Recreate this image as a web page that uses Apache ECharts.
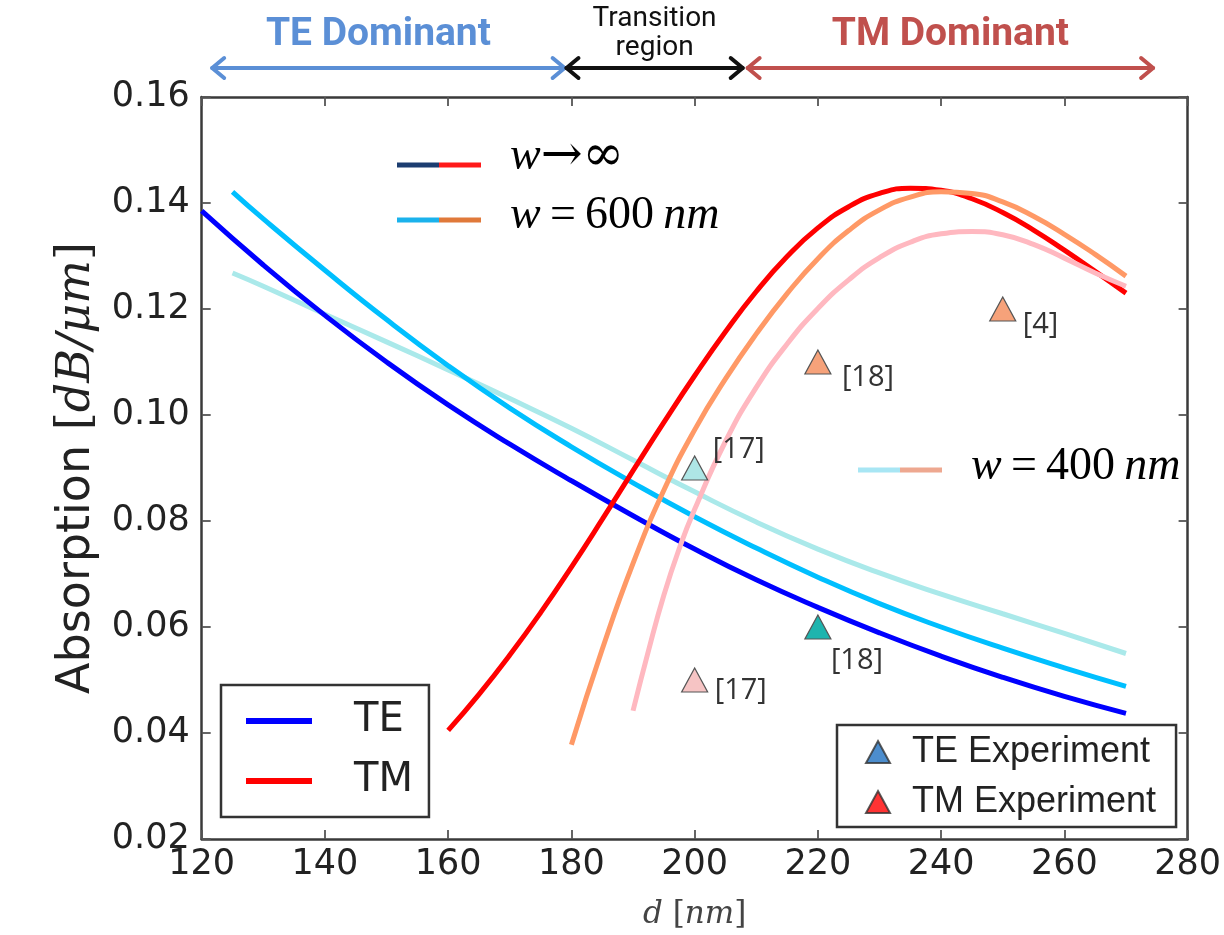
<!DOCTYPE html>
<html>
<head>
<meta charset="utf-8">
<script src="https://cdn.jsdelivr.net/npm/echarts@6/dist/echarts.min.js"></script>
<style>
html,body{margin:0;padding:0;background:#fff;}
#chart{width:1224px;height:935px;}
</style>
</head>
<body>
<div id="chart"></div>
<script>
// ---- data ----
const xTeInf = [120,130,140,150,160,170,180,190,200,210,220,230,240,250,260,270];
const teInf  = [0.1385,0.1283,0.1188,0.1100,0.1019,0.0945,0.0876,0.0810,0.0747,0.0689,0.0637,0.0589,0.0545,0.0505,0.0469,0.0437];

const xTeW = [125,130,140,150,160,170,180,190,200,210,220,230,240,250,260,270];
const te600 = [0.1421,0.1370,0.1273,0.1180,0.1093,0.1013,0.0940,0.0872,0.0808,0.0749,0.0694,0.0644,0.0600,0.0560,0.0523,0.0488];
const te400 = [0.1268,0.1243,0.1190,0.1138,0.1085,0.1031,0.0975,0.0915,0.0855,0.0798,0.0747,0.0702,0.0662,0.0625,0.0588,0.0550];

const xTmInf = [160,165,170,175,180,185,190,195,200,205,210,215,220,225,230,235,240,245,250,255,260,265,270];
const tmInf  = [0.0405,0.0473,0.0547,0.0627,0.0713,0.0803,0.0895,0.0986,0.1074,0.1157,0.1233,0.1299,0.1353,0.1393,0.1418,0.1428,0.1424,0.1408,0.1382,0.1349,0.1311,0.1271,0.1230];

const xTm600 = [180,185,190,195,200,205,210,215,220,225,230,235,240,245,250,255,260,265,270];
const tm600  = [0.0378,0.0558,0.0720,0.0858,0.0972,0.1068,0.1153,0.1229,0.1295,0.1348,0.1387,0.1411,0.1421,0.1418,0.1402,0.1375,0.1341,0.1303,0.1262];

const xTm400 = [190,192.5,195,197.5,200,205,210,215,220,225,230,235,240,245,250,255,260,265,270];
const tm400  = [0.0442,0.0555,0.0660,0.0748,0.0822,0.0950,0.1052,0.1134,0.1201,0.1255,0.1297,0.1326,0.1342,0.1346,0.1340,0.1322,0.1296,0.1268,0.1243];

// experiments
const teExp400X = [200], teExp400Y = [0.09], teExp400Ref = ['[17]'];
const teExp600X = [220], teExp600Y = [0.06], teExp600Ref = ['[18]'];
const tmExp400X = [200], tmExp400Y = [0.05], tmExp400Ref = ['[17]'];
const tmExp600X = [220, 250], tmExp600Y = [0.11, 0.12], tmExp600Ref = ['[18]', '[4]'];

// axis ticks
const xMin = 120, xMax = 280, xStep = 20;
const yMin = 0.02, yMax = 0.16, yStep = 0.02;

// region annotations (d in nm)
const regionNames = ['TE Dominant', 'Transition\nregion', 'TM Dominant'];
const regionBounds = [[121.7, 178.9], [179.2, 207.8], [208.6, 274.4]];

// ---- chart ----
const pair = (xs, ys) => xs.map((x, i) => [x, ys[i]]);
const chart = echarts.init(document.getElementById('chart'));

function lineSeries(name, xs, ys, color, z) {
  return {
    name, type: 'line', data: pair(xs, ys), smooth: 0.5, showSymbol: false,
    symbol: 'none', lineStyle: { color, width: 5 }, itemStyle: { color }, z, silent: true
  };
}
function expSeries(name, xs, ys, refs, color, off) {
  return {
    name, type: 'scatter', symbol: 'triangle', symbolSize: [26, 24], z: 10,
    data: xs.map((x, i) => ({ value: [x, ys[i]], label: { formatter: refs[i], offset: off[i] } })),
    itemStyle: { color, borderColor: '#555', borderWidth: 1.2, opacity: 1 },
    label: {
      show: true, position: 'inside', align: 'left', verticalAlign: 'middle',
      fontFamily: 'Open Sans', fontSize: 29, color: '#333'
    }
  };
}

const axisCommon = {
  axisLine: { show: true, lineStyle: { color: '#3a3a3a', width: 2.5 } },
  axisTick: { show: true, inside: true, length: 9, lineStyle: { color: '#555', width: 1.8 } },
  splitLine: { show: false }
};

const option = {
  backgroundColor: '#fff',
  animation: false,
  grid: { left: 201.7, right: 32.3, top: 97, bottom: 95 },
  xAxis: [
    Object.assign({
      type: 'value', min: xMin, max: xMax, interval: xStep, position: 'bottom',
      axisLabel: { fontFamily: 'DejaVu Sans', fontSize: 35, color: '#222', margin: 8 },
      name: '{i|d}{r| [}{i|nm}{r|]}', nameLocation: 'middle', nameGap: 60,
      nameTextStyle: { rich: {
        i: { fontFamily: 'DejaVu Serif', fontStyle: 'italic', fontSize: 31, color: '#444' },
        r: { fontFamily: 'DejaVu Serif', fontSize: 31, color: '#444' } } }
    }, axisCommon),
    Object.assign({
      type: 'value', min: xMin, max: xMax, interval: xStep, position: 'top',
      axisLabel: { show: false }
    }, axisCommon)
  ],
  yAxis: [
    Object.assign({
      type: 'value', min: yMin, max: yMax, interval: yStep, position: 'left',
      axisLabel: { fontFamily: 'DejaVu Sans', fontSize: 35, color: '#222', margin: 12,
        formatter: v => v.toFixed(2) },
      name: '{a|Absorption }{r|[}{i|dB/μm}{r|]}', nameLocation: 'middle', nameGap: 102, nameRotate: 90,
      nameTextStyle: { rich: {
        a: { fontFamily: 'DejaVu Sans', fontSize: 46, color: '#222' },
        i: { fontFamily: 'DejaVu Serif', fontStyle: 'italic', fontSize: 46, color: '#222' },
        r: { fontFamily: 'DejaVu Serif', fontSize: 46, color: '#222' } } }
    }, axisCommon),
    Object.assign({
      type: 'value', min: yMin, max: yMax, interval: yStep, position: 'right',
      axisLabel: { show: false }
    }, axisCommon)
  ],
  legend: [
    {
      orient: 'vertical', left: 221, top: 685, padding: [16, 16, 16, 25],
      itemWidth: 66, itemHeight: 6, itemGap: 20,
      borderColor: '#333', borderWidth: 2.5, backgroundColor: '#fff',
      selectedMode: false,
      textStyle: { fontFamily: 'DejaVu Sans', fontSize: 40, color: '#222', padding: [0, 0, 0, 37] },
      data: [{ name: 'TE', icon: 'rect' }, { name: 'TM', icon: 'rect' }]
    },
    {
      orient: 'vertical', left: 837, top: 725, padding: [9, 20, 7, 28],
      itemWidth: 24, itemHeight: 22, itemGap: 14,
      borderColor: '#333', borderWidth: 2.5, backgroundColor: '#fff',
      selectedMode: false,
      textStyle: { fontFamily: 'Liberation Sans', fontSize: 36, color: '#222', padding: [0, 0, 0, 17] },
      data: [{ name: 'TE Experiment', icon: 'triangle' }, { name: 'TM Experiment', icon: 'triangle' }]
    }
  ],
  series: [
    lineSeries('TE w→∞', xTeInf, teInf, '#0000ff', 3),
    lineSeries('TE w=600 nm', xTeW, te600, '#00bfff', 3),
    lineSeries('TE w=400 nm', xTeW, te400, '#aae9ea', 2),
    lineSeries('TM w→∞', xTmInf, tmInf, '#ff0000', 4),
    lineSeries('TM w=600 nm', xTm600, tm600, '#ff9966', 4),
    lineSeries('TM w=400 nm', xTm400, tm400, '#ffb8c0', 4),
    expSeries('TE exp 400', teExp400X, teExp400Y, teExp400Ref, '#aee6e6', [[18, -18]]),
    expSeries('TE exp 600', teExp600X, teExp600Y, teExp600Ref, '#1eb4ae', [[13, 34]]),
    expSeries('TM exp 400', tmExp400X, tmExp400Y, tmExp400Ref, '#f6c4c4', [[20, 11]]),
    expSeries('TM exp 600', tmExp600X, tmExp600Y, tmExp600Ref, '#f6a27a', [[24, 16], [20, 16]]),
    { name: 'TE', type: 'line', data: [], color: '#0000ff', itemStyle: { color: '#0000ff' } },
    { name: 'TM', type: 'line', data: [], color: '#ff0000', itemStyle: { color: '#ff0000' } },
    { name: 'TE Experiment', type: 'scatter', data: [], itemStyle: { color: '#1f70c0', borderColor: '#333', borderWidth: 1.2 } },
    { name: 'TM Experiment', type: 'scatter', data: [], itemStyle: { color: '#ff0000', borderColor: '#333', borderWidth: 1.2 } }
  ]
};
chart.setOption(option);

// ---- annotations drawn through the axis scale ----
const px = v => chart.convertToPixel({ xAxisIndex: 0 }, v);
const arrowY = 68;
const regionColors = ['#5b8fd6', '#111111', '#c0504d'];
function arrow(x1, x2, y, color) {
  const w = 12, h = 10, s = { stroke: color, lineWidth: 4, fill: null, lineCap: 'round', lineJoin: 'round' };
  return [
    { type: 'line', shape: { x1, y1: y, x2, y2: y }, style: s },
    { type: 'polyline', shape: { points: [[x1 + w, y - h], [x1, y], [x1 + w, y + h]] }, style: s },
    { type: 'polyline', shape: { points: [[x2 - w, y - h], [x2, y], [x2 - w, y + h]] }, style: s }
  ];
}
const g = [];
regionBounds.forEach((b, i) => {
  const x1 = px(b[0]), x2 = px(b[1]);
  g.push(...arrow(x1, x2, arrowY, regionColors[i]));
  const cx = (x1 + x2) / 2;
  if (i === 1) {
    g.push({ type: 'text', x: cx, y: 33, style: { text: regionNames[i], fill: '#111',
      fontFamily: 'Roboto', fontSize: 28, lineHeight: 29, align: 'center', verticalAlign: 'middle' } });
  } else {
    g.push({ type: 'text', x: cx + (i === 0 ? -10 : 0), y: 35, style: { text: regionNames[i], fill: regionColors[i],
      fontFamily: 'Roboto', fontWeight: 'bold', fontSize: 39, align: 'center', verticalAlign: 'middle' } });
  }
});

// width legends (two-coloured line + math label)
const wRich = {
  i: { fontFamily: 'Liberation Serif', fontStyle: 'italic', fontSize: 46, color: '#222' },
  r: { fontFamily: 'Liberation Serif', fontSize: 46, color: '#222' },
  s: { fontFamily: 'DejaVu Serif', fontSize: 50, color: '#222' }
};
function wLegend(x, y, c1, c2, text, ty) {
  return [
    { type: 'line', shape: { x1: x, y1: y, x2: x + 42, y2: y }, style: { stroke: c1, lineWidth: 5 } },
    { type: 'line', shape: { x1: x + 42, y1: y, x2: x + 84, y2: y }, style: { stroke: c2, lineWidth: 5 } },
    { type: 'text', x: x + 113, y: ty, style: { text, rich: wRich, verticalAlign: 'middle', align: 'left' } }
  ];
}
g.push(...wLegend(397, 165, '#1c3d70', '#ff1a1a', '{i|w}{s|→∞}', 157));
g.push(...wLegend(397, 220, '#1ab2ec', '#e0793a', '{i|w}{r|\u2009=\u2009600\u2009}{i|nm}', 216));
g.push(...wLegend(858, 470, '#a8e6f4', '#eea890', '{i|w}{r|\u2009=\u2009400\u2009}{i|nm}', 467));

chart.setOption({ graphic: g });
</script>
</body>
</html>
